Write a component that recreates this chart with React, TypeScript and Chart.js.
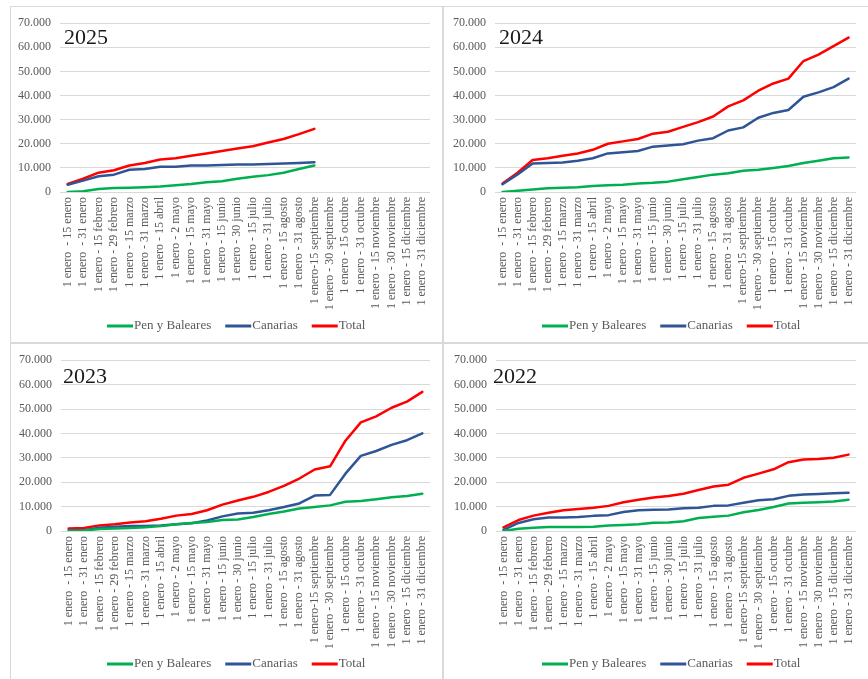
import React, { useEffect, useRef } from "react";
import { Chart, registerables } from "chart.js";

Chart.register(...registerables);

const categories = [
  "1 enero  - 15 enero",
  "1 enero  - 31 enero",
  "1 enero - 15 febrero",
  "1 enero - 29 febrero",
  "1 enero - 15 marzo",
  "1 enero - 31 marzo",
  "1 enero - 15 abril",
  "1 enero - 2 mayo",
  "1 enero - 15 mayo",
  "1 enero - 31 mayo",
  "1 enero - 15 junio",
  "1 enero - 30 junio",
  "1 enero - 15 julio",
  "1 enero - 31 julio",
  "1 enero - 15 agosto",
  "1 enero - 31 agosto",
  "1 enero-15 septiembre",
  "1 enero - 30 septiembre",
  "1 enero - 15 octubre",
  "1 enero - 31 octubre",
  "1 enero - 15 noviembre",
  "1 enero - 30 noviembre",
  "1 enero - 15 diciembre",
  "1 enero - 31 diciembre",
];

const seriesNames = ["Pen y Baleares", "Canarias", "Total"];
const seriesColors = ["#00B050", "#2F5597", "#FF0000"];

const pen2025 = [0, 300, 1200, 1700, 1800, 2000, 2300, 2800, 3300, 4000, 4500, 5500, 6300, 7000, 8000, 9500, 11000];
const can2025 = [3000, 4700, 6500, 7200, 9200, 9500, 10500, 10500, 11000, 11000, 11200, 11400, 11400, 11600, 11800, 12000, 12300];
const tot2025 = [3300, 5500, 8000, 9000, 11000, 12000, 13500, 14000, 15000, 16000, 17000, 18000, 19000, 20500, 22000, 24000, 26200];

const pen2024 = [0, 500, 1000, 1600, 1800, 2000, 2500, 2800, 3000, 3500, 3800, 4300, 5300, 6200, 7200, 7800, 8800, 9200, 10000, 10800, 12000, 13000, 14000, 14300];
const can2024 = [3200, 7300, 11800, 12000, 12200, 13000, 14000, 16000, 16500, 17000, 18800, 19300, 19800, 21300, 22300, 25500, 26800, 30800, 32800, 34000, 39500, 41300, 43500, 47000];
const tot2024 = [3500, 8000, 13300, 14000, 15000, 16000, 17500, 20000, 21000, 22000, 24200, 25000, 27000, 29000, 31300, 35500, 38000, 42000, 45000, 47000, 54300, 57000, 60500, 64000];

const pen2023 = [0, 200, 800, 1000, 1200, 1500, 2000, 2800, 3300, 3700, 4500, 4700, 5700, 7000, 8000, 9200, 9800, 10500, 12000, 12300, 13000, 13800, 14300, 15300];
const can2023 = [300, 300, 1300, 1700, 2000, 2000, 2300, 2800, 3200, 4300, 6000, 7200, 7500, 8500, 9800, 11300, 14500, 14800, 23500, 30800, 32800, 35300, 37200, 40000];
const tot2023 = [1000, 1200, 2300, 2800, 3500, 4000, 5000, 6300, 7000, 8500, 10800, 12500, 14000, 16000, 18500, 21500, 25200, 26500, 37000, 44500, 47000, 50500, 53000, 57000];

const pen2022 = [0, 900, 1300, 1600, 1600, 1600, 1700, 2300, 2500, 2800, 3400, 3500, 4000, 5300, 5800, 6300, 7700, 8600, 9800, 11300, 11600, 11800, 12100, 12800];
const can2022 = [500, 3300, 4800, 5500, 5500, 5700, 6200, 6500, 7800, 8500, 8700, 8800, 9300, 9500, 10300, 10500, 11600, 12600, 13000, 14400, 15000, 15200, 15500, 15700];
const tot2022 = [1500, 4500, 6300, 7500, 8500, 9000, 9500, 10300, 11800, 12800, 13700, 14300, 15300, 16800, 18200, 19000, 21800, 23500, 25300, 28200, 29300, 29500, 30000, 31300];

const yMin = 0;
const yMax = 70000;
const yStep = 10000;

const FONT = "'Liberation Serif', 'DejaVu Serif', serif";
const TEXT_GRAY = "#595959";
const GRID = "#d9d9d9";

function fmtThousands(v: number): string {
  const s = Math.round(v).toString();
  return s.replace(/\B(?=(\d{3})+(?!\d))/g, ".");
}

type PanelCfg = {
  title: string;
  left: number;
  top: number;
  width: number;
  height: number;
  chartLeft: number;
  chartRight: number;
  chartTop: number;
  chartBottom: number;
  titleX: number;
  titleY: number;
  legendX: number;
  legendY: number;
  pen: number[];
  can: number[];
  tot: number[];
};

const panels: PanelCfg[] = [
  { title: "2025", left: 11, top: 7, width: 431, height: 335, chartLeft: 49, chartRight: 419, chartTop: 14, chartBottom: 185, titleX: 53, titleY: 37, legendX: 96, legendY: 319, pen: pen2025, can: can2025, tot: tot2025 },
  { title: "2024", left: 444, top: 7, width: 424, height: 335, chartLeft: 51, chartRight: 422, chartTop: 14, chartBottom: 185, titleX: 55, titleY: 37, legendX: 98, legendY: 319, pen: pen2024, can: can2024, tot: tot2024 },
  { title: "2023", left: 11, top: 344, width: 431, height: 335, chartLeft: 50, chartRight: 419, chartTop: 15, chartBottom: 187, titleX: 52, titleY: 39, legendX: 96, legendY: 320, pen: pen2023, can: can2023, tot: tot2023 },
  { title: "2022", left: 444, top: 344, width: 424, height: 335, chartLeft: 52, chartRight: 422, chartTop: 14, chartBottom: 187, titleX: 49, titleY: 39, legendX: 98, legendY: 320, pen: pen2022, can: can2022, tot: tot2022 },
];

function Panel({ cfg }: { cfg: PanelCfg }) {
  const ref = useRef<HTMLCanvasElement | null>(null);
  useEffect(() => {
    if (!ref.current) return;
    const decor = {
      id: "decor",
      afterDraw(chart: any) {
        const ctx = chart.ctx as CanvasRenderingContext2D;
        ctx.save();
        ctx.fillStyle = "#1a1a1a";
        ctx.font = `22px ${FONT}`;
        ctx.textAlign = "left";
        ctx.textBaseline = "alphabetic";
        ctx.fillText(cfg.title, cfg.titleX, cfg.titleY);
        ctx.font = `13px ${FONT}`;
        ctx.textBaseline = "middle";
        let x = cfg.legendX;
        const y = cfg.legendY;
        seriesNames.forEach((name, i) => {
          ctx.strokeStyle = seriesColors[i];
          ctx.lineWidth = 3;
          ctx.lineCap = "butt";
          ctx.beginPath();
          ctx.moveTo(x, y);
          ctx.lineTo(x + 26, y);
          ctx.stroke();
          x += 27;
          ctx.fillStyle = TEXT_GRAY;
          ctx.fillText(name, x, y);
          x += ctx.measureText(name).width + 14;
        });
        ctx.restore();
      },
    };
    const chart = new Chart(ref.current, {
      type: "line",
      data: {
        labels: categories,
        datasets: [cfg.pen, cfg.can, cfg.tot].map((d, i) => ({
          label: seriesNames[i],
          data: d,
          borderColor: seriesColors[i],
          backgroundColor: seriesColors[i],
          borderWidth: 2.5,
          pointRadius: 0,
          tension: 0,
          borderCapStyle: "round",
          borderJoinStyle: "round",
          fill: false,
        })),
      },
      options: {
        animation: false,
        responsive: false,
        maintainAspectRatio: false,
        devicePixelRatio: 1,
        layout: { padding: { top: cfg.chartTop, right: cfg.width - cfg.chartRight, left: 0, bottom: 0 } },
        plugins: { legend: { display: false }, tooltip: { enabled: false }, title: { display: false } },
        scales: {
          x: {
            type: "category",
            offset: true,
            grid: { display: false, drawTicks: false },
            border: { display: false },
            ticks: {
              autoSkip: false,
              maxRotation: 90,
              minRotation: 90,
              padding: 5,
              color: TEXT_GRAY,
              font: { family: FONT, size: 12 },
            },
            afterFit: (s: any) => {
              s.height = cfg.height - cfg.chartBottom;
            },
          },
          y: {
            min: yMin,
            max: yMax,
            grid: { color: GRID, lineWidth: 1, drawTicks: false },
            border: { display: false },
            ticks: {
              stepSize: yStep,
              padding: 9,
              color: TEXT_GRAY,
              font: { family: FONT, size: 12 },
              callback: (v: any) => fmtThousands(Number(v)),
            },
            afterFit: (s: any) => {
              s.width = cfg.chartLeft;
            },
          },
        },
      },
      plugins: [decor],
    } as any);
    return () => chart.destroy();
  }, [cfg]);
  return (
    <canvas
      ref={ref}
      width={cfg.width}
      height={cfg.height}
      style={{ position: "absolute", left: cfg.left, top: cfg.top, width: cfg.width, height: cfg.height }}
    />
  );
}

export default function App() {
  const line = (l: number, t: number, w: number, h: number) => (
    <div style={{ position: "absolute", left: l, top: t, width: w, height: h, background: GRID }} />
  );
  return (
    <div style={{ position: "absolute", left: 0, top: 0, width: 868, height: 679, background: "#ffffff", overflow: "hidden" }}>
      {line(10, 6, 858, 1)}
      {line(10, 6, 1, 673)}
      {line(442, 6, 2, 673)}
      {line(10, 342, 858, 2)}
      {panels.map((p) => (
        <Panel key={p.title} cfg={p} />
      ))}
    </div>
  );
}
